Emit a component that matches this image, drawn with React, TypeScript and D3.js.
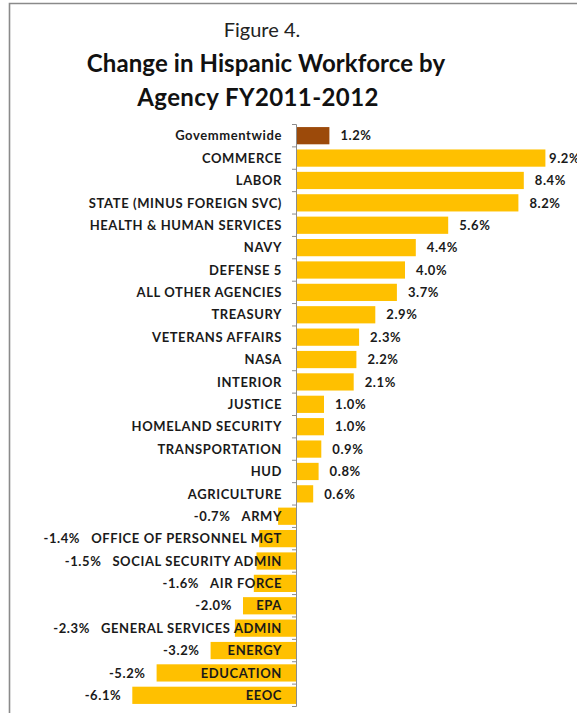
import React, { useEffect, useRef } from "react";
import * as d3 from "d3";

const categories = [
  "Govemmentwide",
  "COMMERCE",
  "LABOR",
  "STATE (MINUS FOREIGN SVC)",
  "HEALTH & HUMAN SERVICES",
  "NAVY",
  "DEFENSE 5",
  "ALL OTHER AGENCIES",
  "TREASURY",
  "VETERANS AFFAIRS",
  "NASA",
  "INTERIOR",
  "JUSTICE",
  "HOMELAND SECURITY",
  "TRANSPORTATION",
  "HUD",
  "AGRICULTURE",
  "ARMY",
  "OFFICE OF PERSONNEL MGT",
  "SOCIAL SECURITY ADMIN",
  "AIR FORCE",
  "EPA",
  "GENERAL SERVICES ADMIN",
  "ENERGY",
  "EDUCATION",
  "EEOC",
];

const values = [
  1.2, 9.2, 8.4, 8.2, 5.6, 4.4, 4.0, 3.7, 2.9, 2.3, 2.2, 2.1, 1.0, 1.0, 0.9,
  0.8, 0.6, -0.7, -1.4, -1.5, -1.6, -2.0, -2.3, -3.2, -5.2, -6.1,
];

const valueLabels = [
  "1.2%", "9.2%", "8.4%", "8.2%", "5.6%", "4.4%", "4.0%", "3.7%", "2.9%",
  "2.3%", "2.2%", "2.1%", "1.0%", "1.0%", "0.9%", "0.8%", "0.6%", "-0.7%",
  "-1.4%", "-1.5%", "-1.6%", "-2.0%", "-2.3%", "-3.2%", "-5.2%", "-6.1%",
];

const titleLines = ["Figure 4.", "Change in Hispanic Workforce by", "Agency FY2011-2012"];

const W = 577;
const H = 713;
const FONT = "Lato, 'Open Sans', sans-serif";

export default function App() {
  const ref = useRef<SVGSVGElement>(null);

  useEffect(() => {
    const svg = d3.select(ref.current);
    svg.selectAll("*").remove();

    // frame
    svg
      .append("path")
      .attr("d", `M9.5,${H + 5} L9.5,3.5 L${W + 5},3.5`)
      .attr("fill", "none")
      .attr("stroke", "#8a8a8a")
      .attr("stroke-width", 1.6);

    // titles
    const cx = 262;
    svg
      .append("text")
      .attr("x", cx)
      .attr("y", 37)
      .attr("text-anchor", "middle")
      .attr("font-family", FONT)
      .attr("font-size", 20)
      .attr("fill", "#222")
      .text(titleLines[0]);
    svg
      .append("text")
      .attr("x", 266)
      .attr("y", 72)
      .attr("text-anchor", "middle")
      .attr("font-family", FONT)
      .attr("font-weight", 700)
      .attr("font-size", 24)
      .attr("letter-spacing", 0.1)
      .attr("fill", "#111")
      .text(titleLines[1]);
    svg
      .append("text")
      .attr("x", 258)
      .attr("y", 106)
      .attr("text-anchor", "middle")
      .attr("font-family", FONT)
      .attr("font-weight", 700)
      .attr("font-size", 24)
      .attr("letter-spacing", 0.4)
      .attr("fill", "#111")
      .text(titleLines[2]);

    const x = d3.scaleLinear().domain([-7, 10]).range([297 - 7 * 27, 297 + 10 * 27]);
    const y = d3
      .scaleBand<string>()
      .domain(categories)
      .range([124.5, 706.5])
      .paddingInner(0.23)
      .paddingOuter(0.115);

    const x0 = x(0);
    const step = y.step();
    const bandTop = y.range()[0];

    // bars
    svg
      .append("g")
      .selectAll("rect")
      .data(categories)
      .join("rect")
      .attr("x", (_d, i) => Math.min(x(values[i]), x0))
      .attr("y", (d) => y(d)!)
      .attr("width", (_d, i) => Math.abs(x(values[i]) - x0))
      .attr("height", y.bandwidth())
      .attr("fill", (_d, i) => (i === 0 ? "#9C4A0A" : "#FFC000"));

    // axis line + ticks
    const ax = svg.append("g");
    ax.append("line")
      .attr("x1", x0 - 0.5)
      .attr("x2", x0 - 0.5)
      .attr("y1", bandTop)
      .attr("y2", bandTop + step * categories.length)
      .attr("stroke", "#8c8c8c")
      .attr("stroke-width", 1);
    ax.selectAll("line.tick")
      .data(d3.range(categories.length + 1))
      .join("line")
      .attr("class", "tick")
      .attr("x1", x0 - 5)
      .attr("x2", x0 - 0.5)
      .attr("y1", (i) => bandTop + i * step)
      .attr("y2", (i) => bandTop + i * step)
      .attr("stroke", "#8c8c8c")
      .attr("stroke-width", 1);

    const LS = 0.6;
    const FS = 13;

    // category labels
    const catG = svg.append("g");
    const catTexts = catG
      .selectAll("text")
      .data(categories)
      .join("text")
      .attr("x", x0 - 15)
      .attr("y", (d) => y(d)! + y.bandwidth() / 2)
      .attr("dy", "0.36em")
      .attr("text-anchor", "end")
      .attr("font-family", FONT)
      .attr("font-weight", 700)
      .attr("font-size", FS)
      .attr("letter-spacing", LS)
      .attr("fill", "#1a1a1a")
      .text((d) => d);

    const catLeft: number[] = [];
    catTexts.each(function (_d, i) {
      const w = (this as SVGTextElement).getComputedTextLength();
      catLeft[i] = x0 - 15 - w;
    });

    // value labels
    svg
      .append("g")
      .selectAll("text")
      .data(categories)
      .join("text")
      .attr("x", (_d, i) => {
        const v = values[i];
        if (v >= 0) return Math.min(x(v) + 11, W - 28);
        return Math.min(x(v), catLeft[i]) - 11;
      })
      .attr("y", (d) => y(d)! + y.bandwidth() / 2)
      .attr("dy", "0.36em")
      .attr("text-anchor", (_d, i) => (values[i] >= 0 ? "start" : "end"))
      .attr("font-family", FONT)
      .attr("font-weight", 700)
      .attr("font-size", FS)
      .attr("letter-spacing", LS)
      .attr("fill", "#1a1a1a")
      .text((_d, i) => valueLabels[i]);
  }, []);

  return (
    <svg
      ref={ref}
      width={W}
      height={H}
      style={{ position: "absolute", left: 0, top: 0, background: "#fff" }}
    />
  );
}
